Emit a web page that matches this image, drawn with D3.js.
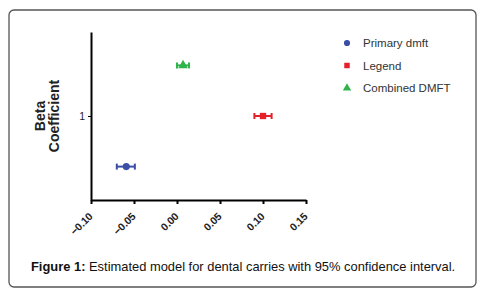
<!DOCTYPE html>
<html>
<head>
<meta charset="utf-8">
<script src="https://cdn.jsdelivr.net/npm/d3@7"></script>
<style>
  body { margin: 0; background: #fff; }
  svg { display: block; font-family: "Liberation Sans", Arial, sans-serif; }
</style>
</head>
<body>
<div id="chart"></div>
<script>
// data
const series = ["Primary dmft", "Legend", "Combined DMFT"];
const colors = ["#3b4ea6", "#e5202b", "#2fb34b"];
const symbols = [d3.symbolCircle, d3.symbolSquare, d3.symbolTriangle];
const estimate = [-0.059, 0.100, 0.007];
const lower = [-0.070, 0.090, 0.000];
const upper = [-0.049, 0.110, 0.014];
const ypos = [0.5, 1, 1.5];
const xTicks = [-0.10, -0.05, 0.00, 0.05, 0.10, 0.15];
const yTicks = [1];

const width = 494, height = 293;
const margin = {top: 32, left: 91, right: 188, bottom: 93};

const svg = d3.select("#chart").append("svg")
    .attr("width", width)
    .attr("height", height);

// frame
svg.append("rect")
    .attr("x", 9).attr("y", 10)
    .attr("width", 467).attr("height", 277)
    .attr("rx", 5)
    .attr("fill", "none")
    .attr("stroke", "#555")
    .attr("stroke-width", 1.3);

const x = d3.scaleLinear().domain([-0.10, 0.15]).range([margin.left, width - margin.right]);
const y = d3.scaleLinear().domain([0.17, 1.83]).range([height - margin.bottom, margin.top]);

const xAxis = d3.axisBottom(x).tickValues(xTicks).tickFormat(d3.format(".2f")).tickSize(4).tickSizeOuter(0);
const yAxis = d3.axisLeft(y).tickValues(yTicks).tickFormat(d3.format("d")).tickSize(3).tickSizeOuter(0);

svg.append("g")
    .attr("transform", `translate(0,${y.range()[0]})`)
    .call(xAxis)
    .call(g => g.select(".domain").attr("stroke-width", 2))
    .call(g => g.selectAll(".tick line").attr("stroke-width", 2))
    .call(g => g.selectAll(".tick text")
        .attr("font-size", 10.5)
        .attr("font-weight", "bold")
        .attr("fill", "#222")
        .attr("text-anchor", "end")
        .attr("dy", null)
        .attr("y", 0)
        .attr("transform", "translate(2,17) rotate(-45)"));

svg.append("g")
    .attr("transform", `translate(${x.range()[0]},0)`)
    .call(yAxis)
    .call(g => g.select(".domain").attr("stroke-width", 2))
    .call(g => g.selectAll(".tick text").attr("font-size", 10.5).attr("fill", "#222"));

// y label
svg.append("text")
    .attr("transform", `translate(45,${y(1)}) rotate(-90)`)
    .attr("text-anchor", "middle")
    .attr("font-size", 14)
    .attr("font-weight", "bold")
    .attr("fill", "#222")
    .selectAll("tspan")
    .data(["Beta", "Coefficient"])
    .join("tspan")
    .attr("x", 0)
    .attr("dy", (d, i) => i === 0 ? 0 : 14)
    .text(d => d);

// error bars
const capH = 3;
const bars = svg.append("g");
series.forEach((s, i) => {
    const g = bars.append("g").attr("stroke", colors[i]).attr("stroke-width", 2);
    g.append("line").attr("x1", x(lower[i])).attr("x2", x(upper[i])).attr("y1", y(ypos[i])).attr("y2", y(ypos[i]));
    g.append("line").attr("x1", x(lower[i])).attr("x2", x(lower[i])).attr("y1", y(ypos[i]) - capH).attr("y2", y(ypos[i]) + capH);
    g.append("line").attr("x1", x(upper[i])).attr("x2", x(upper[i])).attr("y1", y(ypos[i]) - capH).attr("y2", y(ypos[i]) + capH);
    svg.append("path")
        .attr("d", d3.symbol(symbols[i], 40)())
        .attr("transform", `translate(${x(estimate[i])},${y(ypos[i])})`)
        .attr("fill", colors[i]);
});

// legend
const legend = svg.append("g").attr("transform", "translate(347,43)");
series.forEach((s, i) => {
    const row = legend.append("g").attr("transform", `translate(0,${i * 22.5})`);
    row.append("path")
        .attr("d", d3.symbol(symbols[i], 30)())
        .attr("fill", colors[i]);
    row.append("text")
        .attr("x", 16)
        .attr("dy", "0.35em")
        .attr("font-size", 11.5)
        .attr("fill", "#333")
        .text(s);
});

// caption
const cap = svg.append("text")
    .attr("x", 31).attr("y", 271)
    .attr("font-size", 12.9)
    .attr("fill", "#111");
cap.append("tspan").attr("font-weight", "bold").text("Figure 1:");
cap.append("tspan").text(" Estimated model for dental carries with 95% confidence interval.");
</script>
</body>
</html>
